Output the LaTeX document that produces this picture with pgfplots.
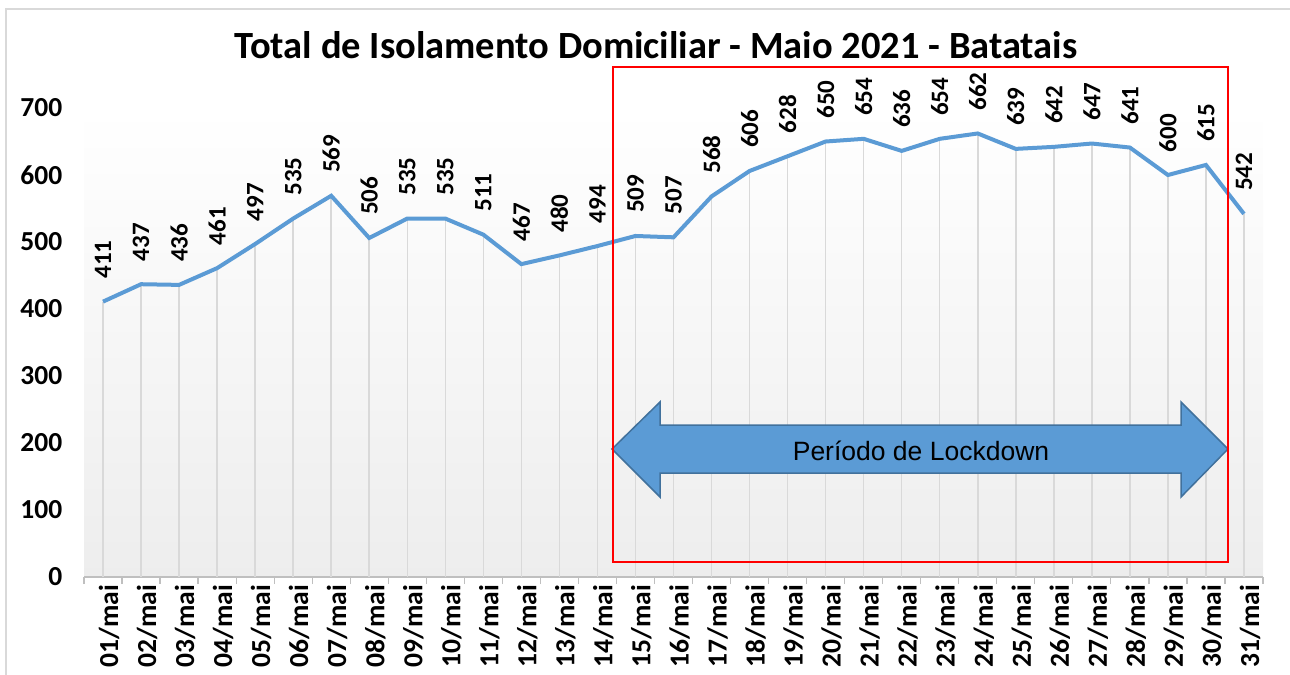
\documentclass[border=0pt]{standalone}
\usepackage{fontspec}
\setmainfont{Carlito}
\newfontfamily\arialfont{Liberation Sans}
\usepackage{pgfplots}
\usepackage{pgfplotstable}
\pgfplotsset{compat=1.18}
\definecolor{lineblue}{HTML}{5B9BD5}
\definecolor{arrowedge}{HTML}{41719C}
\pgfplotstableread{
x y
0 411
1 437
2 436
3 461
4 497
5 535
6 569
7 506
8 535
9 535
10 511
11 467
12 480
13 494
14 509
15 507
16 568
17 606
18 628
19 650
20 654
21 636
22 654
23 662
24 639
25 642
26 647
27 641
28 600
29 615
30 542
}\datatable
\begin{document}
\begin{tikzpicture}
\path[use as bounding box] (0,0) rectangle (1290bp,-675bp);
\draw[black!15, line width=1.2bp] (6bp,-675bp) -- (6bp,-9bp) -- (1290bp,-9bp);
\begin{axis}[
  at={(84bp,-577bp)}, anchor=south west,
  scale only axis, width=1179bp, height=469bp,
  xmin=-0.5, xmax=30.5, ymin=0, ymax=700,
  clip=false,
  axis x line*=bottom, axis y line*=left,
  y axis line style={draw=none},
  x axis line style={black!25, line width=1.2bp},
  axis background/.style={top color=white, bottom color=black!7},
  ytick={0,100,...,700},
  major y tick style={draw=none},
  xtick={0,...,30},
  major x tick style={draw=none},
  minor xtick={-0.5,0.5,...,30.5},
  minor tick length=7bp,
  tick align=outside,
  minor x tick style={black!25, line width=1.2bp},
  xticklabels={01/mai,02/mai,03/mai,04/mai,05/mai,06/mai,07/mai,08/mai,09/mai,10/mai,11/mai,12/mai,13/mai,14/mai,15/mai,16/mai,17/mai,18/mai,19/mai,20/mai,21/mai,22/mai,23/mai,24/mai,25/mai,26/mai,27/mai,28/mai,29/mai,30/mai,31/mai},
  xticklabel style={rotate=90, anchor=east, font=\fontsize{27.5bp}{27.5bp}\selectfont\bfseries, yshift=-6bp},
  yticklabel style={font=\fontsize{27.5bp}{27.5bp}\selectfont\bfseries, xshift=-14bp},
  /pgf/number format/assume math mode=true,
  /pgf/number format/1000 sep={},
]
\addplot[ycomb, black!15, line width=1.5bp, no marks] table[x=x,y=y] {\datatable};
\addplot[lineblue, line width=4bp, no marks,
  nodes near coords,
  every node near coord/.append style={rotate=90, anchor=west, font=\fontsize{25bp}{25bp}\selectfont\bfseries, black, inner sep=0pt, xshift=21bp},
  point meta=explicit symbolic] table[x=x,y=y,meta=y] {\datatable};
\end{axis}
\node[font=\fontsize{38.5bp}{38.5bp}\selectfont\bfseries] at (656bp,-45bp) {Total de Isolamento Domiciliar - Maio 2021 - Batatais};
\draw[fill=lineblue, draw=arrowedge, line width=1.5bp, line join=miter]
  (612bp,-449bp) -- (660bp,-402bp) -- (660bp,-425bp) -- (1181bp,-425bp) -- (1181bp,-402bp)
  -- (1228bp,-449bp) -- (1181bp,-497bp) -- (1181bp,-473bp) -- (660bp,-473bp) -- (660bp,-497bp) -- cycle;
\node[font=\arialfont\fontsize{26.5bp}{26.5bp}\selectfont] at (921bp,-451bp) {Período de Lockdown};
\draw[red, line width=2.2bp] (613bp,-67bp) rectangle (1228bp,-562bp);
\end{tikzpicture}
\end{document}
